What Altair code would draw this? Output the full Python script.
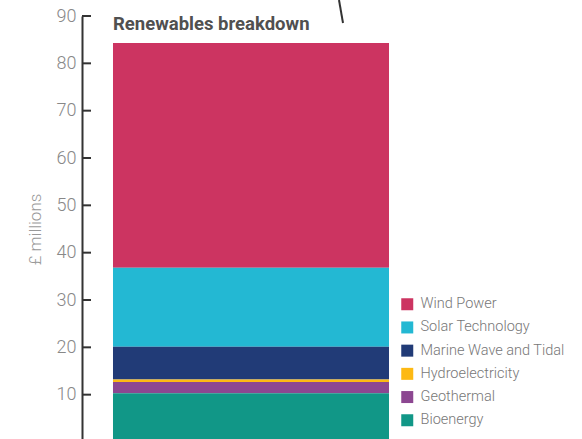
import altair as alt
import pandas as pd

sources = ["Wind Power", "Solar Technology", "Marine Wave and Tidal",
           "Hydroelectricity", "Geothermal", "Bioenergy"]
values = [47.5, 16.7, 6.9, 0.5, 2.4, 10.3]
colors = ["#cc3461", "#23b8d3", "#213b77", "#fdb913", "#8c4791", "#119787"]
tick_values = [10, 20, 30, 40, 50, 60, 70, 80, 90]
panel_title = "Renewables breakdown"
y_title = "£ millions"

n = len(sources)
df = pd.DataFrame({
    "group": ["Renewables"] * n,
    "source": sources,
    "value": values,
    "rank": [n - 1 - i for i in range(n)],
})
ticks_df = pd.DataFrame({"v": tick_values})
title_df = pd.DataFrame({"t": [panel_title]})

yscale = alt.Scale(domain=[0, 90], nice=False)

bars = alt.Chart(df).mark_bar().encode(
    x=alt.X("group:N", axis=None,
            scale=alt.Scale(paddingInner=0, paddingOuter=0.067, align=0.838)),
    y=alt.Y("value:Q", stack="zero", scale=yscale,
            axis=alt.Axis(values=tick_values, title=y_title, ticks=False, grid=False,
                          labelFont="Roboto", labelFontSize=18, labelFontWeight=300,
                          labelColor="#888888", labelPadding=6,
                          domainColor="#333333", domainWidth=2,
                          titleFont="Roboto", titleFontSize=17, titleFontWeight=300,
                          titleColor="#999999", titlePadding=12)),
    color=alt.Color("source:N",
                    scale=alt.Scale(domain=sources, range=colors),
                    legend=alt.Legend(title=None, orient="none", legendX=318, legendY=281,
                                      symbolType="square", symbolSize=144,
                                      symbolStrokeWidth=0, symbolOpacity=1,
                                      labelFont="Roboto", labelFontSize=14.5,
                                      labelFontWeight=300, labelColor="#777777",
                                      labelOffset=6, rowPadding=8.2, padding=0)),
    order=alt.Order("rank:Q"),
)

ticks = alt.Chart(ticks_df).mark_rule(color="#333333", strokeWidth=2).encode(
    x=alt.value(0), x2=alt.value(9),
    y=alt.Y("v:Q", scale=yscale),
)

title = alt.Chart(title_df).mark_text(
    align="left", baseline="alphabetic", font="Roboto", fontWeight="bold",
    fontSize=18.5, color="#505050",
).encode(x=alt.value(31), y=alt.value(14), text="t:N")

connector = alt.Chart(title_df).mark_rule(color="#333333", strokeWidth=2).encode(
    x=alt.value(257), x2=alt.value(261), y=alt.value(-16), y2=alt.value(7),
)

chart = alt.layer(bars, ticks, title, connector).properties(
    width=313, height=426,
    padding={"left": 82, "top": 16, "right": 187, "bottom": 0},
    autosize=alt.AutoSizeParams(type="none"),
).configure_view(stroke=None)

chart.save("out.html", embed_options={"renderer": "svg", "actions": False})
